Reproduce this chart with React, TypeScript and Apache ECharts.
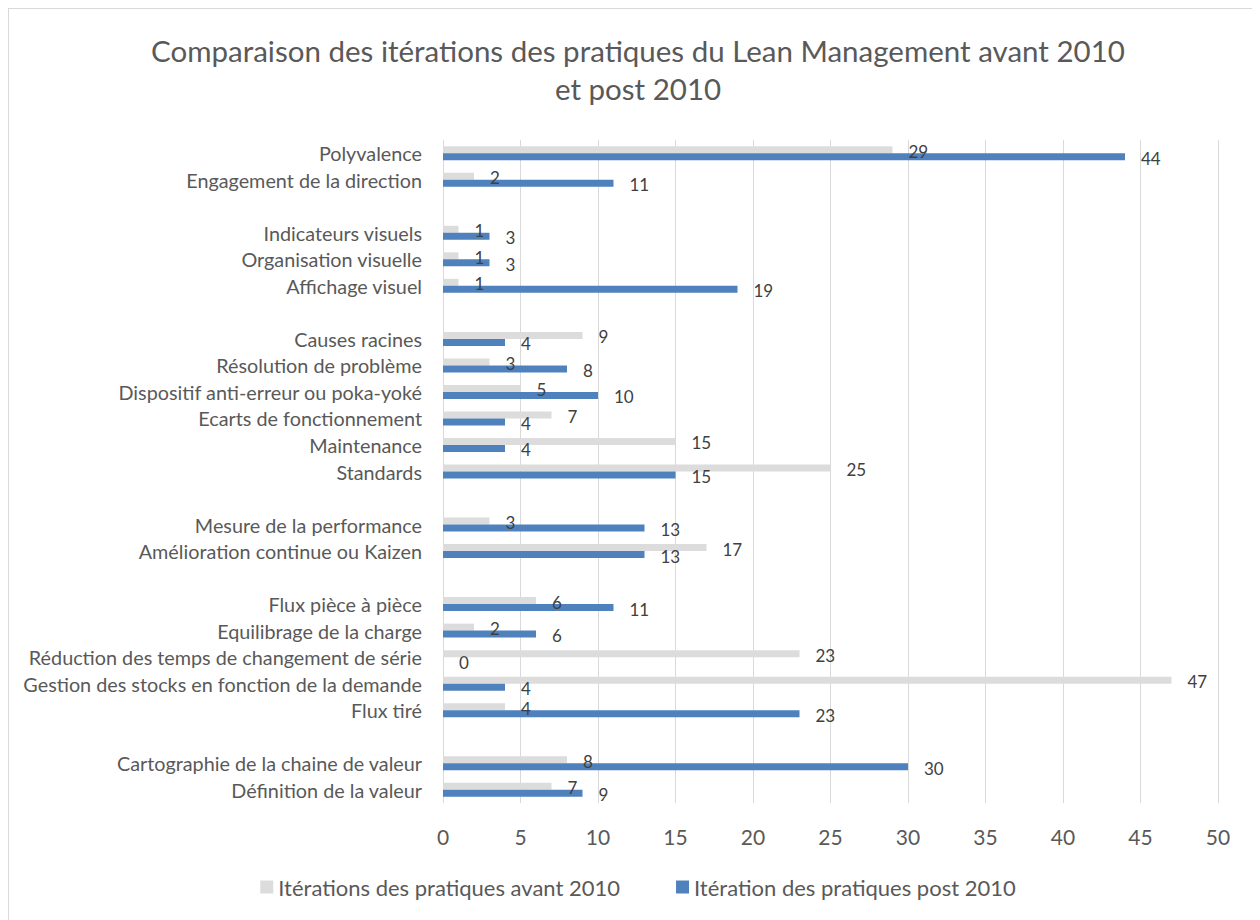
import React, { useEffect, useRef } from "react";
import * as echarts from "echarts";

const categories = [
  "Polyvalence",
  "Engagement de la direction",
  "",
  "Indicateurs visuels",
  "Organisation visuelle",
  "Affichage visuel",
  " ",
  "Causes racines",
  "Résolution de problème",
  "Dispositif anti-erreur ou poka-yoké",
  "Ecarts de fonctionnement",
  "Maintenance",
  "Standards",
  "  ",
  "Mesure de la performance",
  "Amélioration continue ou Kaizen",
  "   ",
  "Flux pièce à pièce",
  "Equilibrage de la charge",
  "Réduction des temps de changement de série",
  "Gestion des stocks en fonction de la demande",
  "Flux tiré",
  "    ",
  "Cartographie de la chaine de valeur",
  "Définition de la valeur",
];

const avant2010 = [29, 2, null, 1, 1, 1, null, 9, 3, 5, 7, 15, 25, null, 3, 17, null, 6, 2, 23, 47, 4, null, 8, 7];
const post2010 = [44, 11, null, 3, 3, 19, null, 4, 8, 10, 4, 4, 15, null, 13, 13, null, 11, 6, 0, 4, 23, null, 30, 9];

const seriesNames = ["Itérations des pratiques avant 2010", "Itération des pratiques post 2010"];
const xTicks = { min: 0, max: 50, interval: 5 };

const FONT = "Lato";

export default function App() {
  const ref = useRef<HTMLDivElement>(null);
  useEffect(() => {
    document.body.style.overflow = "hidden";
    const chart = echarts.init(ref.current!, null, { renderer: "svg" });
    const labelStyle = {
      show: true,
      position: "right",
      distance: 16,
      offset: [0, 1.5],
      fontFamily: FONT,
      fontSize: 17,
      color: "#404040",
    };
    chart.setOption({
      animation: false,
      backgroundColor: "#ffffff",
      title: {
        text: "Comparaison des itérations des pratiques du Lean Management avant 2010\net post 2010",
        left: "center",
        top: 17,
        textStyle: {
          fontFamily: FONT,
          fontSize: 29.5,
          fontWeight: "normal",
          color: "#595959",
          lineHeight: 38,
        },
      },
      legend: {
        bottom: 24,
        left: "center",
        icon: "rect",
        itemWidth: 13,
        itemHeight: 13,
        itemGap: 56,
        textStyle: { fontFamily: FONT, fontSize: 22, color: "#595959" },
        data: seriesNames,
      },
      grid: { left: 434, right: 49, top: 131, bottom: 124, containLabel: false },
      xAxis: {
        type: "value",
        min: xTicks.min,
        max: xTicks.max,
        interval: xTicks.interval,
        axisLine: { show: false },
        axisTick: { show: false },
        axisLabel: { fontFamily: FONT, fontSize: 21, color: "#595959", margin: 23 },
        splitLine: { lineStyle: { color: "#d9d9d9", width: 1 } },
      },
      yAxis: {
        type: "category",
        inverse: true,
        data: categories,
        axisLine: { show: false },
        axisTick: { show: false },
        axisLabel: { fontFamily: FONT, fontSize: 19.8, color: "#595959", margin: 21, interval: 0 },
        splitLine: { show: false },
      },
      series: [
        {
          name: seriesNames[0],
          type: "bar",
          data: avant2010,
          barWidth: 7,
          barGap: "0%",
          itemStyle: { color: "#dcdcdc" },
          label: labelStyle,
        },
        {
          name: seriesNames[1],
          type: "bar",
          data: post2010,
          barWidth: 7,
          barGap: "0%",
          itemStyle: { color: "#4f81bd" },
          label: labelStyle,
        },
      ],
    });
    return () => chart.dispose();
  }, []);
  return (
    <div style={{ width: 1260, height: 920, border: "1px solid #d9d9d9", boxSizing: "border-box" }}>
      <div ref={ref} style={{ width: 1258, height: 918 }} />
    </div>
  );
}
